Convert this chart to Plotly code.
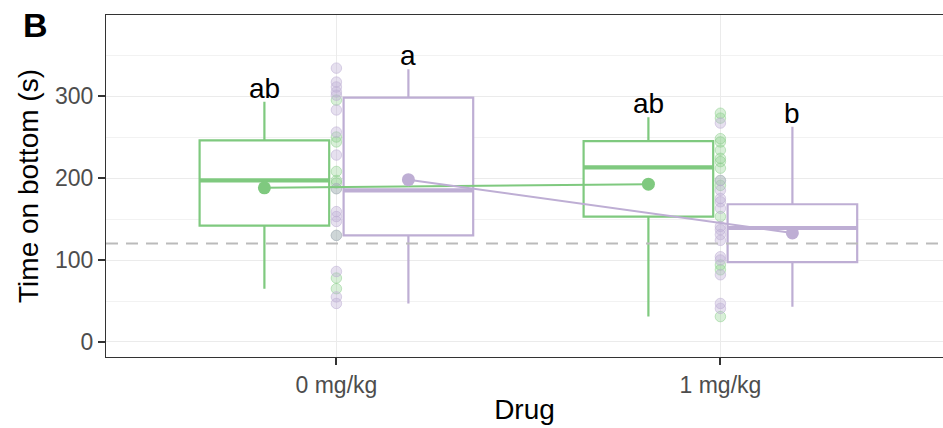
import plotly.graph_objects as go

# Categories on the x axis
doses = ["0 mg/kg", "1 mg/kg"]

# Raw observations per dose, one list per series
s1_raw = [
    [295, 250, 244, 208, 197, 194, 187, 130, 78, 65],
    [279, 273, 248, 244, 234, 224, 220, 212, 197, 191, 153, 94, 88, 31],
]
s2_raw = [
    [334, 317, 311, 305, 301, 283, 256, 228, 187, 159, 153, 147, 130, 86, 55, 47],
    [267, 197, 185, 175, 171, 163, 141, 137, 131, 124, 104, 100, 82, 47, 41],
]

# Box summaries per dose (lower whisker, Q1, median, Q3, upper whisker) and means
s1_low = [65, 31]
s1_q1 = [142, 153]
s1_med = [197, 213]
s1_q3 = [246, 245]
s1_high = [293, 274]
s1_mean = [188, 192.5]

s2_low = [47, 43]
s2_q1 = [130, 97.5]
s2_med = [185, 139]
s2_q3 = [298, 168]
s2_high = [332.5, 262.5]
s2_mean = [198, 133]

# Compact letter display
s1_letters = ["ab", "ab"]
s2_letters = ["a", "b"]

threshold = 120

GREEN = "#7FC97F"
PURPLE = "#BEAED4"
DODGE = 0.375
BOX_W = 0.3375
FONT = "Liberation Sans, Arial"

fig = go.Figure()

series = [
    dict(raw=s1_raw, low=s1_low, q1=s1_q1, med=s1_med, q3=s1_q3, high=s1_high,
         mean=s1_mean, letters=s1_letters, color=GREEN, fill="rgba(127,201,127,0.3)",
         edge="rgba(127,201,127,0.45)", offset=-DODGE / 2),
    dict(raw=s2_raw, low=s2_low, q1=s2_q1, med=s2_med, q3=s2_q3, high=s2_high,
         mean=s2_mean, letters=s2_letters, color=PURPLE, fill="rgba(190,174,212,0.38)",
         edge="rgba(190,174,212,0.55)", offset=DODGE / 2),
]

centers = [i + 1 for i in range(len(doses))]

# Boxes
for s in series:
    xs = [c + s["offset"] for c in centers]
    fig.add_trace(go.Box(
        x=xs, q1=s["q1"], median=s["med"], q3=s["q3"],
        lowerfence=s["low"], upperfence=s["high"],
        width=BOX_W, whiskerwidth=0, boxpoints=False,
        fillcolor="white", line=dict(color=s["color"], width=2.2),
        showlegend=False, hoverinfo="skip",
    ))
    # thicker median bar
    for x, m in zip(xs, s["med"]):
        fig.add_trace(go.Scatter(
            x=[x - BOX_W / 2, x + BOX_W / 2], y=[m, m], mode="lines",
            line=dict(color=s["color"], width=4.2), showlegend=False, hoverinfo="skip",
        ))

# Raw observations stacked at each dose
for s in series:
    for c, vals in zip(centers, s["raw"]):
        fig.add_trace(go.Scatter(
            x=[c] * len(vals), y=vals, mode="markers",
            marker=dict(size=10.5, color=s["fill"], line=dict(color=s["edge"], width=1)),
            showlegend=False, hoverinfo="skip",
        ))

# Means joined across doses
for s in series:
    xs = [c + s["offset"] for c in centers]
    fig.add_trace(go.Scatter(
        x=xs, y=s["mean"], mode="lines+markers",
        line=dict(color=s["color"], width=2),
        marker=dict(size=13, color=s["color"]),
        showlegend=False, hoverinfo="skip",
    ))

# Letters above the whiskers
for s in series:
    xs = [c + s["offset"] for c in centers]
    for x, top, lab in zip(xs, s["high"], s["letters"]):
        fig.add_annotation(
            x=x, y=top, text=lab, showarrow=False, yanchor="bottom", yshift=-4,
            font=dict(family=FONT, size=28, color="black"),
        )

# Reference line
fig.add_shape(
    type="line", xref="paper", x0=0, x1=1, yref="y", y0=threshold, y1=threshold,
    line=dict(color="#BBBBBB", width=2, dash="12px,8px"), layer="above",
)

# Panel tag
fig.add_annotation(
    xref="paper", yref="paper", x=-0.102, y=1.033, xanchor="left", yanchor="top",
    text="<b>B</b>", showarrow=False,
    font=dict(family=FONT, size=34, color="black"),
)

fig.update_layout(
    width=943, height=428,
    margin=dict(l=106, r=0, t=15, b=71),
    plot_bgcolor="white", paper_bgcolor="white",
    font=dict(family=FONT),
)

fig.update_xaxes(
    range=[0.4, 0.4 + 837 / 384],
    tickvals=centers, ticktext=doses,
    showgrid=True, gridcolor="#EBEBEB", gridwidth=1.4,
    ticks="outside", ticklen=7, tickwidth=1.6, tickcolor="#333333",
    tickfont=dict(size=23, color="#4D4D4D"),
    showline=True, linecolor="#333333", linewidth=1.3, mirror=True,
    zeroline=False,
    title=dict(text="Drug", font=dict(size=28, color="black"), standoff=2),
)
fig.update_yaxes(
    range=[-18.3, 398.8],
    tickvals=[0, 100, 200, 300],
    showgrid=True, gridcolor="#EBEBEB", gridwidth=1.4,
    minor=dict(tickvals=[50, 150, 250, 350], showgrid=True, gridcolor="#F2F2F2", gridwidth=1.1, ticks=""),
    ticks="outside", ticklen=7, tickwidth=1.6, tickcolor="#333333",
    tickfont=dict(size=23, color="#4D4D4D"),
    showline=True, linecolor="#333333", linewidth=1.3, mirror=False,
    zeroline=False,
    title=dict(text="Time on bottom (s)", font=dict(size=28, color="black"), standoff=8),
)

fig.write_html("out.html")
